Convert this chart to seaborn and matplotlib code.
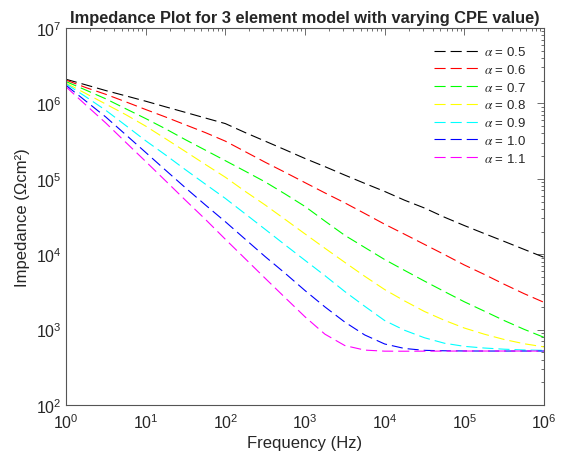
import seaborn as sns
import numpy as np
import pandas as pd
import matplotlib
matplotlib.use("Agg")
import matplotlib.pyplot as plt
from matplotlib.ticker import LogLocator, NullFormatter

# frequency points (Hz), quarter-decade steps from 1 Hz to 1 MHz
freq = [1, 1.78, 3.16, 5.62, 10, 17.8, 31.6, 56.2, 100, 178, 316, 562, 1000,
        1780, 3160, 5620, 1e4, 1.78e4, 3.16e4, 5.62e4, 1e5, 1.78e5, 3.16e5, 5.62e5, 1e6]

# impedance (Ohm cm^2), one list per CPE exponent
z_05 = [2.09e6, 1.76e6, 1.48e6, 1.26e6, 1.07e6, 9.0e5, 7.6e5, 6.4e5, 5.4e5, 4.1e5, 3.16e5, 2.43e5, 1.86e5,
        1.45e5, 1.12e5, 8.7e4, 6.8e4, 5.2e4, 4.1e4, 3.1e4, 2.4e4, 1.88e4, 1.48e4, 1.16e4, 9.1e3]
z_06 = [2.04e6, 1.62e6, 1.32e6, 1.05e6, 8.3e5, 6.6e5, 5.2e5, 4.1e5, 3.16e5, 2.29e5, 1.66e5, 1.22e5, 8.9e4,
        6.5e4, 4.8e4, 3.47e4, 2.5e4, 1.84e4, 1.35e4, 9.9e3, 7.2e3, 5.4e3, 4.0e3, 3.0e3, 2.3e3]
z_07 = [1.95e6, 1.50e6, 1.15e6, 8.5e5, 6.3e5, 4.6e5, 3.3e5, 2.4e5, 1.74e5, 1.26e5, 9.1e4, 6.3e4, 4.3e4,
        2.75e4, 1.78e4, 1.23e4, 8.5e3, 6.1e3, 4.4e3, 3.2e3, 2.34e3, 1.76e3, 1.32e3, 1.01e3, 790]
z_08 = [1.86e6, 1.35e6, 9.8e5, 7.1e5, 5.0e5, 3.4e5, 2.3e5, 1.55e5, 1.05e5, 6.8e4, 4.5e4, 2.9e4, 1.86e4,
        1.2e4, 7.8e3, 5.1e3, 3.4e3, 2.4e3, 1.74e3, 1.33e3, 1.05e3, 870, 740, 650, 590]
z_09 = [1.82e6, 1.22e6, 8.1e5, 5.1e5, 3.2e5, 2.07e5, 1.32e5, 8.5e4, 5.5e4, 3.43e4, 2.14e4, 1.33e4, 8.3e3,
        5.2e3, 3.2e3, 2.04e3, 1.32e3, 980, 780, 660, 600, 570, 550, 537, 531]
z_10 = [1.74e6, 1.07e6, 6.6e5, 3.85e5, 2.24e5, 1.30e5, 7.6e4, 4.5e4, 2.7e4, 1.58e4, 9.3e3, 5.6e3, 3.3e3,
        2.0e3, 1.26e3, 850, 645, 562, 531, 524, 521, 520, 520, 520, 520]
z_11 = [1.66e6, 9.5e5, 5.5e5, 3.05e5, 1.7e5, 9.4e4, 5.2e4, 2.9e4, 1.58e4, 8.7e3, 4.8e3, 2.66e3, 1.48e3,
        870, 615, 535, 518, 517, 518, 519, 520, 520, 520, 520, 520]

alphas = ["0.5", "0.6", "0.7", "0.8", "0.9", "1.0", "1.1"]
series = [z_05, z_06, z_07, z_08, z_09, z_10, z_11]
colors = ["#000000", "#ff0000", "#00ff00", "#ffff00", "#00ffff", "#0000ff", "#ff00ff"]
decades_x = [1, 10, 100, 1e3, 1e4, 1e5, 1e6]
decades_y = [1e2, 1e3, 1e4, 1e5, 1e6, 1e7]

sns.set_style("white")
plt.rcParams["font.family"] = ["Liberation Sans", "DejaVu Sans"]
plt.rcParams["mathtext.fontset"] = "stix"

fig = plt.figure(figsize=(5.63, 4.56), dpi=100)
ax = fig.add_axes([0.1172, 0.1096, 0.849, 0.8268])

for a, z, c in zip(alphas, series, colors):
    sns.lineplot(x=freq, y=z, color=c, linewidth=0.8, label=r"$\alpha$ = " + a, ax=ax)
for line in ax.lines:
    line.set_dashes((10, 4.5))

ax.set_xscale("log")
ax.set_yscale("log")
ax.set_xticks(decades_x)
ax.set_yticks(decades_y)
ax.set_xlim(1, 1e6)
ax.set_ylim(1e2, 1e7)
ax.xaxis.set_minor_locator(LogLocator(base=10, subs=np.arange(2, 10), numticks=20))
ax.yaxis.set_minor_locator(LogLocator(base=10, subs=np.arange(2, 10), numticks=20))
ax.xaxis.set_minor_formatter(NullFormatter())
ax.yaxis.set_minor_formatter(NullFormatter())

ax.tick_params(which="both", direction="in", top=True, right=True,
               color="#555555", labelcolor="#262626", labelsize=11.5, width=0.6)
ax.tick_params(which="major", length=5)
ax.tick_params(which="minor", length=2.5)
ax.tick_params(axis="x", which="major", pad=5)
ax.tick_params(axis="y", which="major", pad=3)
for s in ax.spines.values():
    s.set_color("#555555")
    s.set_linewidth(0.8)

ax.set_xlabel("Frequency (Hz)", fontsize=12, color="#262626", labelpad=3)
ax.set_ylabel("Impedance (Ωcm²)", fontsize=12, color="#262626")
ax.set_title("Impedance Plot for 3 element model with varying CPE value)",
             fontsize=11.8, fontweight="bold", pad=4)

ax.legend(loc="upper right", frameon=False, fontsize=9.5, handlelength=3.6,
          handletextpad=0.2, labelspacing=0.36, borderaxespad=0.9)

fig.savefig("out.png", dpi=100)
